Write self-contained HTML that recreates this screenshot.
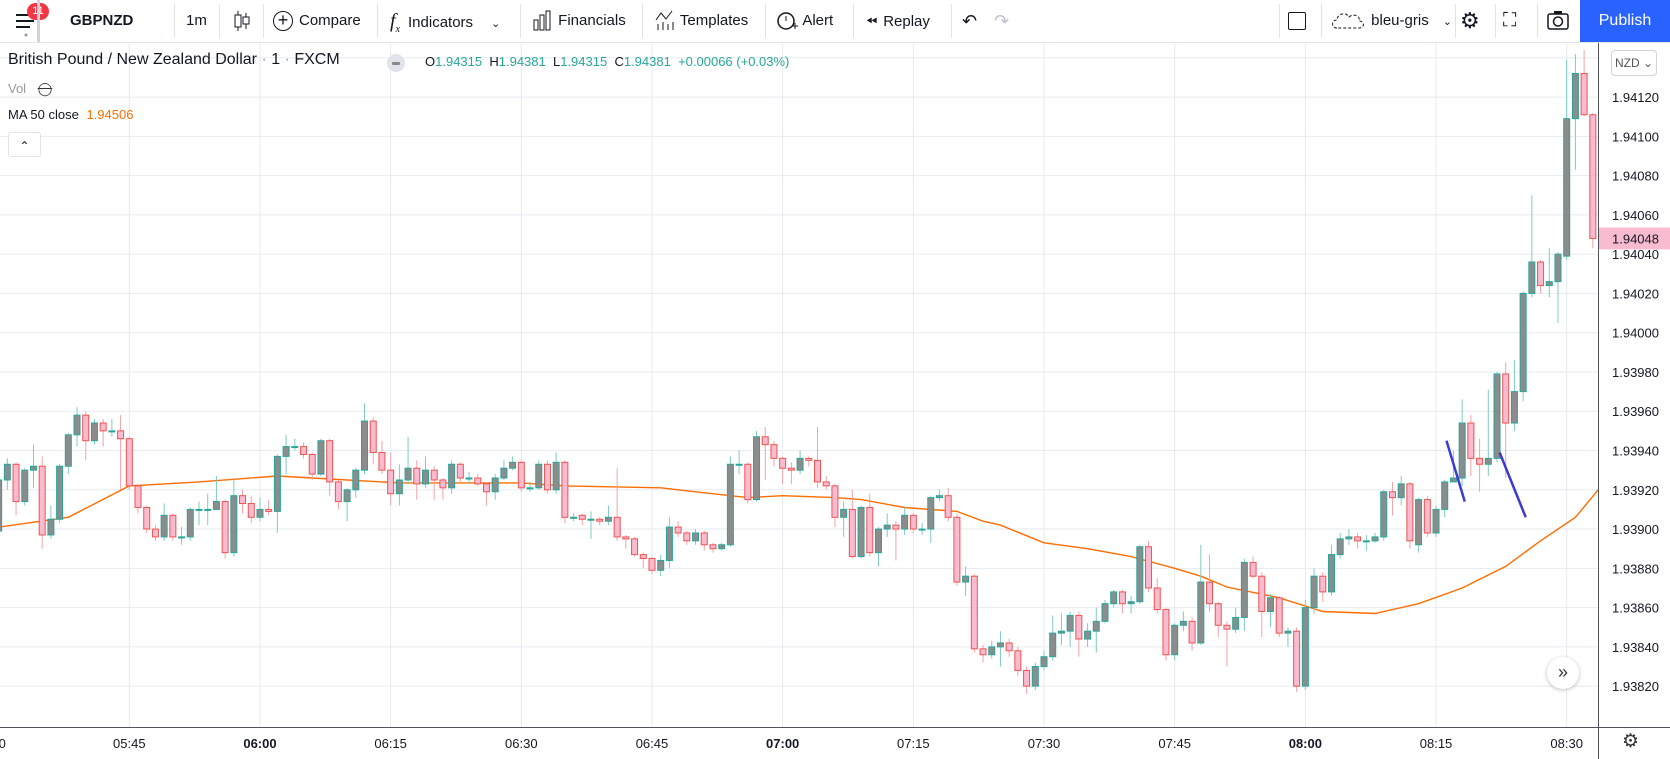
<!DOCTYPE html>
<html><head><meta charset="utf-8">
<style>
body{margin:0;width:1670px;height:759px;overflow:hidden;background:#fff;font-family:"Liberation Sans",sans-serif;color:#131722}
#tb{position:absolute;left:0;top:0;width:1670px;height:42px;border-bottom:1px solid #e0e3eb;background:#fff}
.ti{position:absolute;top:0;height:42px;line-height:42px;font-size:15px;color:#131722;white-space:nowrap}
.sep{position:absolute;top:4px;width:1px;height:34px;background:#e0e3eb}
svg text{font-family:"Liberation Sans",sans-serif}
</style></head><body>
<div id="tb">
 <div class="ti" style="left:14px;width:24px">
  <svg width="24" height="42"><rect x="2" y="14" width="18" height="2" fill="#131722"/><rect x="2" y="20" width="18" height="2" fill="#131722"/><rect x="2" y="26" width="14" height="2" fill="#131722"/><circle cx="12" cy="35" r="1.5" fill="#999"/></svg>
 </div>
 <div style="position:absolute;left:27px;top:3px;width:22px;height:17px;border-radius:9px;background:#f23645;color:#fff;font-size:11px;text-align:center;line-height:17px">11</div>
 <div class="sep" style="left:37px;background:#d0d3db;width:3px;top:0;height:42px"></div>
 <div class="ti" style="left:70px;font-weight:bold;font-size:15px">GBPNZD</div>
 <div class="sep" style="left:174px"></div>
 <div class="ti" style="left:186px">1m</div>
 <div class="sep" style="left:219px"></div>
 <div class="ti" style="left:232px"><svg width="20" height="42"><line x1="6" y1="11" x2="6" y2="31" stroke="#131722"/><rect x="3" y="15" width="6" height="12" fill="#fff" stroke="#131722"/><line x1="14" y1="13" x2="14" y2="29" stroke="#131722"/><rect x="11" y="17" width="6" height="7" fill="#fff" stroke="#131722"/></svg></div>
 <div class="sep" style="left:263px"></div>
 <div class="ti" style="left:273px"><span style="display:inline-block;width:20px;height:20px;border:1.5px solid #131722;border-radius:50%;text-align:center;font-size:18px;vertical-align:middle;margin-right:6px;box-sizing:border-box;line-height:16px">+</span>Compare</div>
 <div class="sep" style="left:377px"></div>
 <div class="ti" style="left:390px"><span style="font-style:italic;font-family:'Liberation Serif',serif;font-size:20px;margin-right:8px">f<sub style="font-size:10px">x</sub></span>Indicators<span style="margin-left:18px;font-size:11px">&#8964;</span></div>
 <div class="sep" style="left:520px"></div>
 <div class="ti" style="left:532px"><svg width="22" height="42" style="vertical-align:top"><rect x="2" y="20" width="4" height="10" fill="none" stroke="#131722"/><rect x="8" y="15" width="4" height="15" fill="none" stroke="#131722"/><rect x="14" y="11" width="4" height="19" fill="none" stroke="#131722"/></svg> Financials</div>
 <div class="sep" style="left:642px"></div>
 <div class="ti" style="left:654px"><svg width="22" height="42" style="vertical-align:top"><polyline points="2,20 7,13 12,19 18,11" fill="none" stroke="#131722"/><line x1="4" y1="24" x2="4" y2="30" stroke="#131722"/><line x1="9" y1="22" x2="9" y2="30" stroke="#131722"/><line x1="14" y1="24" x2="14" y2="30" stroke="#131722"/><line x1="19" y1="22" x2="19" y2="30" stroke="#131722"/></svg> Templates</div>
 <div class="sep" style="left:765px"></div>
 <div class="ti" style="left:775px"><svg width="24" height="42" style="vertical-align:top"><circle cx="11" cy="21" r="8" fill="none" stroke="#131722" stroke-width="1.5"/><line x1="11" y1="16" x2="11" y2="21" stroke="#131722"/><line x1="17" y1="26" x2="23" y2="26" stroke="#131722"/><line x1="20" y1="23" x2="20" y2="29" stroke="#131722"/></svg> Alert</div>
 <div class="sep" style="left:853px"></div>
 <div class="ti" style="left:866px"><span style="font-size:14px;margin-right:6px">&#x23EA;&#xFE0E;</span>Replay</div>
 <div class="sep" style="left:951px"></div>
 <div class="ti" style="left:962px;font-size:18px">&#8630;</div>
 <div class="ti" style="left:994px;font-size:18px;color:#c0c3cc">&#8631;</div>
 <div class="sep" style="left:1279px"></div>
 <div class="ti" style="left:1288px"><span style="display:inline-block;width:16px;height:16px;border:1.5px solid #131722;border-radius:2px;vertical-align:middle"></span></div>
 <div class="sep" style="left:1321px"></div>
 <div class="ti" style="left:1331px"><svg width="36" height="42" style="vertical-align:top"><path d="M6,28 C0,28 0,20 6,20 C6,13 16,12 18,17 C22,13 30,16 28,21 C34,21 34,28 28,28 Z" fill="none" stroke="#131722" stroke-dasharray="3,2"/></svg> bleu-gris<span style="margin-left:14px;font-size:11px">&#8964;</span></div>
 <div class="sep" style="left:1455px"></div>
 <div class="ti" style="left:1460px;font-size:22px">&#9881;</div>
 <div class="sep" style="left:1495px"></div>
 <div class="ti" style="left:1503px;font-size:19px">&#x26F6;</div>
 <div class="sep" style="left:1537px"></div>
 <div class="ti" style="left:1546px"><svg width="24" height="42"><rect x="2" y="14" width="20" height="15" rx="2" fill="none" stroke="#131722" stroke-width="1.5"/><circle cx="12" cy="21.5" r="4.5" fill="none" stroke="#131722" stroke-width="1.5"/><rect x="8" y="11" width="8" height="3" fill="#131722"/></svg></div>
 <div style="position:absolute;left:1580px;top:0;width:90px;height:42px;background:#2962ff;color:#fff;font-size:16px;line-height:42px;text-align:center">Publish</div>
</div>

<svg id="chart" width="1670" height="716" style="position:absolute;left:0;top:43px"></svg>

<div style="position:absolute;left:8px;top:51px;font-size:16px;color:#131722;white-space:nowrap">British Pound / New Zealand Dollar <span style="color:#999">·</span> 1 <span style="color:#999">·</span> FXCM</div>
<div style="position:absolute;left:387px;top:54px;width:18px;height:18px;border-radius:50%;background:#e0e3eb"><div style="position:absolute;left:5px;top:8px;width:8px;height:3px;background:#888;border-radius:1px"></div></div>
<div style="position:absolute;left:425px;top:54px;font-size:13px;white-space:nowrap;color:#131722">O<span style="color:#26a69a">1.94315</span>&nbsp; H<span style="color:#26a69a">1.94381</span>&nbsp; L<span style="color:#26a69a">1.94315</span>&nbsp; C<span style="color:#26a69a">1.94381</span>&nbsp; <span style="color:#26a69a">+0.00066 (+0.03%)</span></div>
<div style="position:absolute;left:8px;top:81px;font-size:13px;color:#999">Vol <span style="margin-left:8px;color:#333;text-decoration:line-through">&#9711;</span></div>
<div style="position:absolute;left:8px;top:107px;font-size:13px;color:#131722">MA 50 close <span style="color:#ff6d00;margin-left:4px">1.94506</span></div>
<div style="position:absolute;left:8px;top:132px;width:31px;height:23px;border:1px solid #e0e3eb;border-radius:3px;background:#fff;text-align:center;font-size:12px;line-height:26px">&#8963;</div>
<div style="position:absolute;left:1611px;top:50px;width:44px;height:24px;border:1px solid #d1d4dc;border-radius:4px;background:#fff;font-size:12px;line-height:24px;text-align:center;color:#555">NZD &#8964;</div>
<div style="position:absolute;left:1547px;top:657px;width:32px;height:32px;border-radius:50%;background:#fff;box-shadow:0 1px 4px rgba(0,0,0,.25);text-align:center;line-height:30px;font-size:18px;color:#333">&#187;</div>
<div style="position:absolute;left:1622px;top:730px;font-size:19px;color:#333">&#9881;</div>

<script>
const opens=[99,125,133,114,130,132,97,105,132,148,158,145,154,150,150,146,122,111,100,96,107,96,96,110,110,110,114,88,117,113,106,110,109,137,142,142,138,128,145,124,114,120,130,155,139,130,118,125,131,123,130,125,121,133,126,126,123,119,126,131,134,121,121,133,120,134,106,107,105,105,104,106,96,95,87,85,79,84,101,98,94,98,92,90,92,133,133,115,147,143,136,131,130,136,135,124,122,106,110,86,111,88,100,102,100,107,100,100,116,117,106,73,76,39,36,40,42,38,28,20,30,35,47,48,56,44,48,53,62,68,62,63,91,70,59,36,51,53,42,73,62,51,49,55,83,76,58,65,47,48,20,60,76,68,87,95,96,94,94,96,119,116,123,92,115,98,110,124,126,154,136,133,136,179,154,170,220,236,224,226,239,309,332,311];
const closes=[125,133,114,130,132,97,105,132,148,158,145,154,150,150,146,122,111,100,96,107,96,96,110,110,110,114,88,117,113,106,110,109,137,142,142,138,128,145,124,114,120,130,155,139,130,118,125,131,123,130,125,121,133,126,126,123,119,126,131,134,121,121,133,120,134,106,106,105,105,104,106,96,95,87,85,79,84,101,98,94,98,92,90,92,133,133,115,147,143,136,131,130,136,135,124,122,106,110,86,111,88,100,102,100,107,100,100,116,117,106,73,76,39,36,40,42,38,28,20,30,35,47,48,56,44,48,53,62,68,62,63,91,70,59,36,51,53,42,73,62,51,49,55,83,76,58,65,47,48,20,60,76,68,87,95,96,94,94,96,119,116,123,94,115,98,110,124,126,154,136,133,136,179,154,170,220,236,224,226,240,309,332,311,248];
const highs=[128,136,134,131,143,137,112,133,149,162,160,156,156,156,158,147,123,112,102,113,108,101,111,114,118,127,115,126,120,117,116,115,138,148,146,144,139,146,146,125,121,131,164,157,145,139,133,147,135,137,132,126,135,134,129,128,124,128,135,137,135,124,135,135,139,135,108,108,109,106,112,131,97,96,88,86,87,106,104,99,100,99,93,93,137,140,134,150,152,145,137,134,140,137,152,127,123,114,120,112,118,101,108,104,111,108,103,117,120,121,108,81,77,41,43,48,44,40,30,32,38,56,57,58,58,52,60,64,69,69,66,92,94,75,60,52,58,55,92,87,63,53,60,85,86,78,67,66,50,50,64,80,78,92,98,100,98,97,98,120,124,127,124,116,117,112,125,140,166,158,146,171,180,185,186,221,270,237,243,241,339,342,344,312];
const lows=[97,120,107,112,121,90,95,103,128,142,135,143,142,147,120,120,108,98,94,94,94,92,94,102,102,110,85,86,108,103,104,107,98,128,140,136,125,127,117,110,104,116,128,133,128,112,112,123,115,121,115,115,118,124,123,122,112,115,125,130,119,119,120,118,118,103,104,102,95,102,102,94,90,86,80,77,76,80,96,92,92,89,88,89,91,128,113,114,125,132,123,123,128,132,121,120,101,96,85,85,86,81,96,84,97,98,97,93,114,104,71,66,37,32,34,30,35,25,16,18,28,33,41,40,35,40,37,52,60,57,57,62,68,57,33,33,48,38,41,58,45,30,47,48,75,45,50,45,40,17,18,57,63,66,85,92,90,89,93,94,107,112,90,88,96,96,106,124,122,127,119,127,134,126,150,165,218,220,218,205,237,283,310,243];
const maIndex=[0,8,15,23,32,38,46,60,65,76,80,86,90,96,99,104,110,113,115,120,125,130,135,138,141,147,152,158,163,168,173,177,181,184];
const maValues=[101,106,122,124,127,125.5,123.5,123.5,122,121,119,116,117,116,115,111,109,104,102,93,90,86,80,76,70.5,65,58,57,62,70,81,94,106,122];
const priceTicks=["1.94140","1.94120","1.94100","1.94080","1.94060","1.94040","1.94020","1.94000","1.93980","1.93960","1.93940","1.93920","1.93900","1.93880","1.93860","1.93840","1.93820"];
const timeTicks=[330,345,360,375,390,405,420,435,450,465,480,495,510];
const timeLabels=["30","05:45","06:00","06:15","06:30","06:45","07:00","07:15","07:30","07:45","08:00","08:15","08:30"];
const boldTimes=["06:00","07:00","08:00"];
const lastPrice="1.94048";
const drawnLines=[[166.2,145,168.3,114],[172.3,139,175.3,106]];

const OFF=43;
const NS="http://www.w3.org/2000/svg";
const svg=document.getElementById('chart');
const plotR=1598, plotB=727;
function xT(t){return 129.3+(t-345)*8.7115;}
function xN(n){return xT(330+n);}
function yP(p){return 332.7-(p-200)*1.9636-OFF;}
function yS(s){return yP((parseFloat(s)-1.938)*100000);}
function mk(tag,attrs){const e=document.createElementNS(NS,tag);for(const k in attrs)e.setAttribute(k,attrs[k]);svg.appendChild(e);return e;}

priceTicks.forEach(s=>{
  const g=mk('line',{x1:0,x2:plotR,y1:yS(s),y2:yS(s),stroke:'#e6ebf2','stroke-width':1});
  
  
});
timeTicks.forEach(t=>{
  const g=mk('line',{x1:xT(t),x2:xT(t),y1:0,y2:plotB-OFF,stroke:'#e6ebf2','stroke-width':1});
  
  
});
let d='';
maIndex.forEach((n,i)=>{d+=(i?'L':'M')+xN(n).toFixed(1)+','+yP(maValues[i]).toFixed(1);});
const ma=mk('path',{d:d,fill:'none',stroke:'#ff6d00','stroke-width':1.4});


opens.forEach((o,n)=>{
  const c=closes[n],h=highs[n],l=lows[n],x=xN(n);
  const up=c>=o;
  const wick=mk('line',{x1:x,x2:x,y1:yP(h),y2:yP(l),stroke:up?'#7fcbc2':'#f3a3a8','stroke-width':1});
  
  
  const top=yP(Math.max(o,c)),bot=yP(Math.min(o,c));
  const body=mk('rect',{x:x-3,y:top,width:6,height:Math.max(1,bot-top),fill:up?'#8c8c8c':'#f8bbd0',stroke:up?'#26a69a':'#ef5350','stroke-width':1});
  
  
});
drawnLines.forEach(a=>{
  const ln=mk('line',{x1:xN(a[0]),y1:yP(a[1]),x2:xN(a[2]),y2:yP(a[3]),stroke:'#3b3bd1','stroke-width':2.5});
  
  
});
const pa=mk('rect',{x:plotR,y:0,width:1670-plotR,height:716,fill:'#fff'});


mk('line',{x1:plotR+0.5,x2:plotR+0.5,y1:0,y2:716,stroke:'#50535e','stroke-width':1});
priceTicks.forEach(s=>{
  if(s==="1.94140")return;
  const t=mk('text',{x:1612,y:yS(s)+5,'font-size':13,fill:'#131722'});
  t.textContent=s;
  
  
});
const ly=yS(lastPrice);
const lb=mk('rect',{x:plotR+1,y:ly-11,width:71,height:22,fill:'#f8bbd0'});


const lt=mk('text',{x:1612,y:ly+5,'font-size':13,fill:'#131722'});
lt.textContent=lastPrice;


const ta=mk('rect',{x:0,y:plotB-OFF,width:plotR,height:716-(plotB-OFF),fill:'#fff'});


mk('line',{x1:0,x2:1670,y1:plotB-OFF+0.5,y2:plotB-OFF+0.5,stroke:'#50535e','stroke-width':1});
timeTicks.forEach((t,i)=>{
  const lab=timeLabels[i];
  const tx=mk('text',{x:xT(t),y:plotB-OFF+21,'font-size':13,'text-anchor':'middle',fill:'#131722','font-weight':boldTimes.includes(lab)?'bold':'normal'});
  tx.textContent=lab;
  
  
});
</script>
</body></html>
